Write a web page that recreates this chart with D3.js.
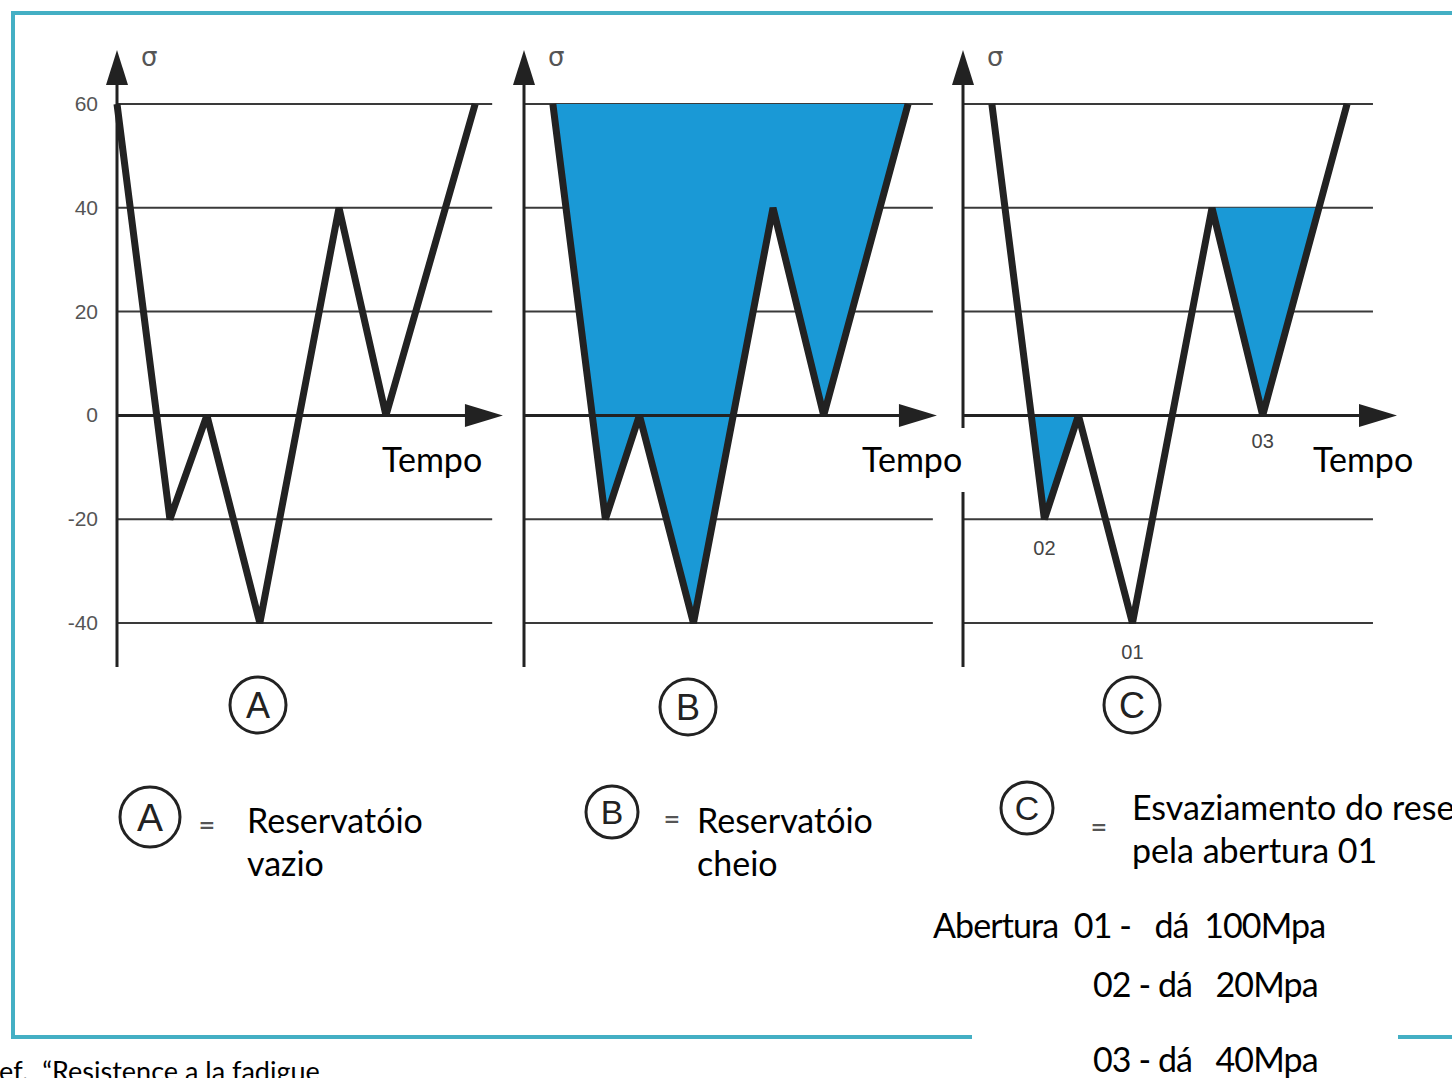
<!DOCTYPE html>
<html>
<head>
<meta charset="utf-8">
<script src="https://cdn.jsdelivr.net/npm/d3@7"></script>
<style>
  html, body { margin: 0; padding: 0; background: #fff; overflow: hidden; }
  svg { display: block; }
  .big { font-family: Lato, "Open Sans", sans-serif; font-size: 34px; fill: #000; white-space: pre; }
</style>
</head>
<body>
<svg id="chart" width="1452" height="1078"></svg>
<script>
// ---------- data ----------
const stress = [60, -20, 0, -40, 40, 0, 60];                 // σ at each turning point
const timeA  = [0, 1.43, 2.43, 3.86, 6.0, 7.27, 9.68];        // time of turning points, panel A
const timeBC = [0.78, 2.2, 3.12, 4.58, 6.73, 8.1, 10.38];     // time of turning points, panels B & C
const yTicks = [60, 40, 20, 0, -20, -40];
const panelKeys = ["A", "B", "C"];
const axisTitle = "σ";
const timeTitle = "Tempo";
const legendLines = [["Reservatóio", "vazio"], ["Reservatóio", "cheio"], ["Esvaziamento do reservatório", "pela abertura 01"]];
const aberturaLines = ["Abertura  01 -   dá  100Mpa", "02 - dá   20Mpa", "03 - dá   40Mpa"];
const cycleNames = ["02", "01", "03"];
const cycleIdx = [1, 3, 5];
const refText = "Ref.  “Resistence a la fadigue";

// ---------- layout ----------
const W = 1452, H = 1078;
const svg = d3.select("#chart");
const pxPerUnit = 37;
const y = d3.scaleLinear().domain([-40, 60]).range([623, 104]);
const yAxisBottom = 667, yAxisTip = 50;
const panels = [
  { key: "A", times: timeA,  x0: 117, gridEnd: 10.14, arrowTip: 10.43, fills: [] },
  { key: "B", times: timeBC, x0: 524, gridEnd: 11.05, arrowTip: 11.16, fills: [{ level: 60, i0: 0, i1: 6 }] },
  { key: "C", times: timeBC, x0: 963, gridEnd: 11.08, arrowTip: 11.73, fills: [{ level: 0, i0: 0, i1: 2 }, { level: 40, i0: 4, i1: 6 }] }
];
const chartCircles = [{ cx: 258, cy: 705 }, { cx: 688, cy: 707 }, { cx: 1132, cy: 705 }];
const legendPos = [
  { cx: 150, cy: 817, r: 30, eqx: 207, eqy: 824, tx: 247, ty: 833 },
  { cx: 612, cy: 812, r: 26, eqx: 672, eqy: 818, tx: 697, ty: 833 },
  { cx: 1027, cy: 808, r: 26, eqx: 1099, eqy: 826, tx: 1132, ty: 820 }
];
const fillColor = "#1a99d6";
const ink = "#222";

// background
svg.append("rect").attr("width", W).attr("height", H).attr("fill", "#fff");

// border
svg.append("path")
  .attr("d", `M1460,13 L13,13 L13,1037 L1460,1037`)
  .attr("fill", "none").attr("stroke", "#44afc4").attr("stroke-width", 4);

function crossing(t1, v1, t2, v2, level) {
  const f = (level - v1) / (v2 - v1);
  return t1 + f * (t2 - t1);
}

panels.forEach((p, pi) => {
  const g = svg.append("g");
  const x = d3.scaleLinear().domain([0, 1]).range([p.x0, p.x0 + pxPerUnit]);

  // grid lines
  g.selectAll("line.grid").data(yTicks.filter(v => v !== 0)).join("line")
    .attr("x1", x(0)).attr("x2", x(p.gridEnd))
    .attr("y1", d => y(d)).attr("y2", d => y(d))
    .attr("stroke", "#3a3a3a").attr("stroke-width", 2);

  // fills
  p.fills.forEach(f => {
    const pts = [];
    for (let i = f.i0; i <= f.i1; i++) {
      const t = p.times[i], v = stress[i];
      if (i > f.i0) {
        const tp = p.times[i - 1], vp = stress[i - 1];
        if ((vp > f.level && v < f.level) || (vp < f.level && v > f.level)) {
          pts.push([crossing(tp, vp, t, v, f.level), f.level]);
        }
      }
      if (v <= f.level) pts.push([t, v]);
    }
    const area = d3.area().x(d => x(d[0])).y0(y(f.level)).y1(d => y(d[1]));
    g.append("path").attr("d", area(pts)).attr("fill", fillColor);
  });

  // time axis (zero line) with arrow
  g.append("line")
    .attr("x1", x(0)).attr("x2", x(p.arrowTip) - 30)
    .attr("y1", y(0)).attr("y2", y(0))
    .attr("stroke", ink).attr("stroke-width", 3);
  const tipX = x(p.arrowTip), y0 = y(0);
  g.append("path")
    .attr("d", `M${tipX},${y0} L${tipX - 38},${y0 - 11.5} L${tipX - 38},${y0 + 11.5} Z`)
    .attr("fill", ink);

  // stress axis with arrow
  g.append("line")
    .attr("x1", x(0)).attr("x2", x(0))
    .attr("y1", yAxisBottom).attr("y2", yAxisTip + 30)
    .attr("stroke", ink).attr("stroke-width", 3);
  g.append("path")
    .attr("d", `M${x(0)},${yAxisTip} L${x(0) - 11},${yAxisTip + 35} L${x(0) + 11},${yAxisTip + 35} Z`)
    .attr("fill", ink);
  g.append("text").text(axisTitle)
    .attr("x", x(0) + 24).attr("y", 66)
    .attr("font-family", "DejaVu Sans, sans-serif").attr("font-size", 26).attr("fill", "#555");

  // tick labels only on first panel
  if (pi === 0) {
    g.selectAll("text.tick").data(yTicks).join("text")
      .attr("x", x(0) - 19).attr("y", d => y(d) + 7)
      .attr("text-anchor", "end")
      .attr("font-family", "Liberation Sans, Arial, sans-serif").attr("font-size", 21)
      .attr("fill", "#555").text(d => d);
  }

  // stress history path
  const line = d3.line().x((d, i) => x(p.times[i])).y(d => y(d));
  g.append("path").attr("d", line(stress))
    .attr("fill", "none").attr("stroke", ink).attr("stroke-width", 7)
    .attr("stroke-linejoin", "bevel");

  // cycle labels for panel C
  if (p.key === "C") {
    cycleIdx.forEach((idx, k) => {
      const v = stress[idx];
      const dy = v === 0 ? 33 : 36;
      g.append("text").text(cycleNames[k])
        .attr("x", x(p.times[idx])).attr("y", y(v) + dy)
        .attr("text-anchor", "middle")
        .attr("font-family", "Liberation Sans, Arial, sans-serif").attr("font-size", 20)
        .attr("fill", "#444");
    });
  }

  // circled letter under chart
  const c = chartCircles[pi];
  svg.append("circle").attr("cx", c.cx).attr("cy", c.cy).attr("r", 28)
    .attr("fill", "none").attr("stroke", ink).attr("stroke-width", 3);
  svg.append("text").text(p.key).attr("x", c.cx).attr("y", c.cy + 13)
    .attr("text-anchor", "middle")
    .attr("font-family", "Liberation Sans, Arial, sans-serif").attr("font-size", 36).attr("fill", ink);
});

// "Tempo" labels with white boxes
const tempoBoxes = [{ x: 360, w: 145, tx: 382 }, { x: 845, w: 137, tx: 862 }, { x: 1290, w: 143, tx: 1313 }];
tempoBoxes.forEach(b => {
  svg.append("rect").attr("x", b.x).attr("y", 428).attr("width", b.w).attr("height", 64).attr("fill", "#fff");
  svg.append("text").attr("class", "big").attr("x", b.tx).attr("y", 472).text(timeTitle);
});

// legend
legendPos.forEach((L, i) => {
  svg.append("circle").attr("cx", L.cx).attr("cy", L.cy).attr("r", L.r)
    .attr("fill", "none").attr("stroke", ink).attr("stroke-width", 3);
  svg.append("text").text(panelKeys[i]).attr("x", L.cx).attr("y", L.cy + L.r * 0.45)
    .attr("text-anchor", "middle")
    .attr("font-family", "Liberation Sans, Arial, sans-serif").attr("font-size", L.r * 1.3).attr("fill", ink);
  svg.append("text").text("=").attr("x", L.eqx).attr("y", L.eqy + 8)
    .attr("text-anchor", "middle")
    .attr("font-family", "DejaVu Sans, sans-serif").attr("font-weight", "bold")
    .attr("font-size", 20).attr("fill", "#555");
  legendLines[i].forEach((s, k) => {
    svg.append("text").attr("class", "big").attr("x", L.tx).attr("y", L.ty + k * 43).text(s);
  });
});

// abertura text
svg.append("rect").attr("x", 972).attr("y", 1027).attr("width", 426).attr("height", 51).attr("fill", "#fff");
const abPos = [{ x: 933, y: 938 }, { x: 1093, y: 997 }, { x: 1093, y: 1072 }];
aberturaLines.forEach((s, i) => {
  svg.append("text").attr("class", "big").attr("x", abPos[i].x).attr("y", abPos[i].y)
    .attr("letter-spacing", -0.9).text(s);
});

// reference
svg.append("text").attr("class", "big").attr("x", -17).attr("y", 1081)
  .style("font-size", "27px").text(refText);
</script>
</body>
</html>
